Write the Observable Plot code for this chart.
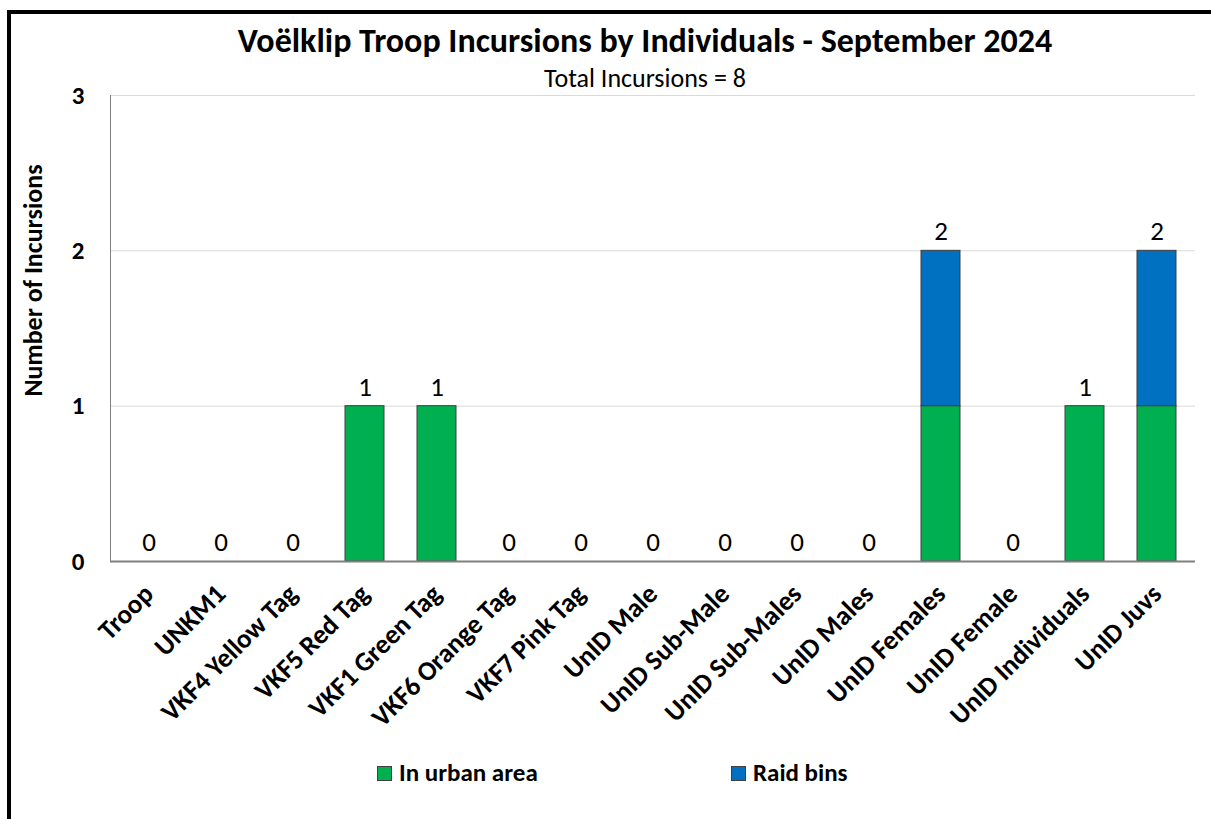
<!DOCTYPE html>
<html>
<head>
<meta charset="utf-8">
<script src="https://cdn.jsdelivr.net/npm/d3@7"></script>
<script src="https://cdn.jsdelivr.net/npm/@observablehq/plot@0.6"></script>
<style>
  html, body { margin: 0; padding: 0; background: #fff; overflow: hidden; }
  body { width: 1211px; height: 819px; position: relative; font-family: Carlito, Lato, "Open Sans", sans-serif; }
  #frame { position: absolute; left: 7px; top: 10px; width: 1300px; height: 900px; border-left: 4px solid #000; border-top: 4px solid #000; box-sizing: border-box; }
  #title { position: absolute; left: 0; width: 1290px; top: 20px; text-align: center; font-weight: bold; font-size: 34px; line-height: 42px; color: #000; }
  #subtitle { position: absolute; left: 0; width: 1290px; top: 62px; text-align: center; font-size: 26px; line-height: 32px; color: #000; }
  #chart { position: absolute; left: 0; top: 0; }
  #legend { position: absolute; top: 758px; left: 0; width: 1211px; font-weight: bold; font-size: 25px; line-height: 30px; color: #000; }
  .item { position: absolute; display: flex; align-items: center; }
  .sw { width: 13px; height: 13px; border: 1px solid #404040; margin-right: 7px; }
</style>
</head>
<body>
<div id="frame"></div>
<div id="title">Voëlklip Troop Incursions by Individuals - September 2024</div>
<div id="subtitle">Total Incursions = 8</div>
<div id="chart"></div>
<div id="legend"></div>
<script>
const categories = ["Troop", "UNKM1", "VKF4 Yellow Tag", "VKF5 Red Tag", "VKF1 Green Tag", "VKF6 Orange Tag", "VKF7 Pink Tag", "UnID Male", "UnID Sub-Male", "UnID Sub-Males", "UnID Males", "UnID Females", "UnID Female", "UnID Individuals", "UnID Juvs"];
const seriesNames = ["In urban area", "Raid bins"];
const inUrbanArea = [0, 0, 0, 1, 1, 0, 0, 0, 0, 0, 0, 1, 0, 1, 1];
const raidBins    = [0, 0, 0, 0, 0, 0, 0, 0, 0, 0, 0, 1, 0, 0, 1];
const yTicks = [0, 1, 2, 3];
const colors = ["#00B050", "#0070C0"];

const rows = [];
categories.forEach((c, i) => {
  rows.push({cat: c, series: seriesNames[0], value: inUrbanArea[i]});
  rows.push({cat: c, series: seriesNames[1], value: raidBins[i]});
});
const totals = categories.map((c, i) => ({cat: c, total: inUrbanArea[i] + raidBins[i]}));

const chart = Plot.plot({
  width: 1211,
  height: 819,
  marginTop: 95,
  marginBottom: 258,
  marginLeft: 110,
  marginRight: 16,
  style: {fontFamily: "Carlito, Lato, 'Open Sans', sans-serif", color: "#000", background: "transparent"},
  x: {domain: categories, paddingInner: 0.46, paddingOuter: 0.23, label: null},
  y: {domain: [0, 3], ticks: yTicks, label: null},
  color: {domain: seriesNames, range: colors},
  marks: [
    Plot.gridY(yTicks.filter(d => d > 0), {stroke: "#d9d9d9", strokeOpacity: 1, strokeWidth: 1}),
    Plot.frame({anchor: "left", stroke: "#7f7f7f", strokeWidth: 1}),
    Plot.barY(rows.filter(d => d.value > 0), {x: "cat", y: "value", fill: "series", stroke: "#3f3f3f", strokeWidth: 1, order: seriesNames}),
    Plot.ruleY([0], {stroke: "#7f7f7f", strokeWidth: 2}),
    Plot.text(totals, {x: "cat", y: "total", text: d => String(d.total), dy: -19, fontSize: 27, fill: "#000"}),
    Plot.axisY({ticks: yTicks, tickFormat: "d", tickSize: 0, tickPadding: 26, fontSize: 25, fontWeight: "bold", label: null}),
    Plot.axisX({tickSize: 0, tickRotate: -45, tickPadding: 28, dx: 0, fontSize: 27, fontWeight: "bold", label: null}),
    Plot.text(["Number of Incursions"], {frameAnchor: "left", textAnchor: "middle", rotate: -90, dx: -77, dy: -48, fontSize: 26, fontWeight: "bold", text: d => d})
  ]
});
document.getElementById("chart").appendChild(chart);

const legend = document.getElementById("legend");
const lefts = [377, 731];
seriesNames.forEach((s, i) => {
  const it = document.createElement("div");
  it.className = "item";
  it.style.left = lefts[i] + "px";
  it.innerHTML = `<span class="sw" style="background:${colors[i]}"></span><span>${s}</span>`;
  legend.appendChild(it);
});
</script>
</body>
</html>
